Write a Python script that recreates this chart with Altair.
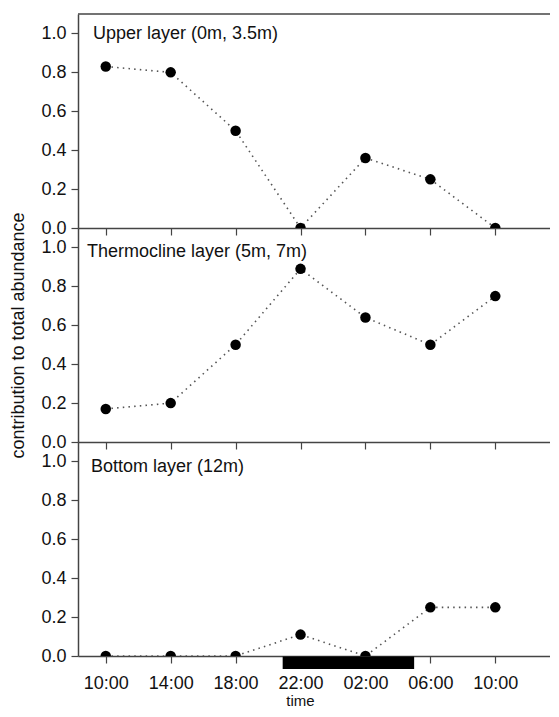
import json
import altair as alt
import pandas as pd

# ---- data ----
times = ["10:00", "14:00", "18:00", "22:00", "02:00", "06:00", "10:00"]
hours = [0, 4, 8, 12, 16, 20, 24]          # hours elapsed since the first 10:00 sample
upper = [0.83, 0.80, 0.50, 0.00, 0.36, 0.25, 0.00]
thermo = [0.17, 0.20, 0.50, 0.89, 0.64, 0.50, 0.75]
bottom = [0.00, 0.00, 0.00, 0.11, 0.00, 0.25, 0.25]
layer_names = ["Upper layer (0m, 3.5m)", "Thermocline layer (5m, 7m)", "Bottom layer (12m)"]
night_start = [10.9]   # ~20:55, hours since first sample
night_end = [19.0]     # ~05:00
y_ticks = [0.0, 0.1, 0.2, 0.3, 0.4, 0.5, 0.6, 0.7, 0.8, 0.9, 1.0]

FONT = "Liberation Sans"
W, H = 472, 214
AX = "#444444"

x_scale = alt.Scale(domain=[-1.71, 27.37], nice=False, zero=False)
y_scale = alt.Scale(domain=[0, 1.1], nice=False, zero=True)
x_label_expr = f"{json.dumps(times)}[indexof({json.dumps(hours)}, datum.value)]"
major_test = "abs(round(datum.value * 10) % 2) == 0"


def panel(values, name, idx, text_x, text_y):
    df = pd.DataFrame({"h": hours, "v": values})
    show_labels = idx == 2
    x_axis_kwargs = dict(values=hours, labels=show_labels, labelExpr=x_label_expr,
                         tickSize=7, labelPadding=11, labelFontSize=18)
    if idx == 2:
        x_axis_kwargs.update(title="time", titleX=222, titleY=49, titleBaseline="alphabetic",
                             titleFontSize=15)
    else:
        x_axis_kwargs.update(title=None)
    x_axis = alt.Axis(**x_axis_kwargs)

    y_axis_kwargs = dict(values=y_ticks,
                         labelExpr=f"{major_test} ? format(datum.value, '.1f') : ''",
                         tickSize={"condition": {"test": major_test, "value": 7}, "value": 4},
                         labelPadding=5, labelFontSize=18)
    if idx == 1:
        y_axis_kwargs.update(title="contribution to total abundance", titleX=-60, titleY=H / 2,
                             titleAngle=270, titleAlign="center", titleBaseline="middle",
                             titleFontSize=18)
    else:
        y_axis_kwargs.update(title=None)
    y_axis = alt.Axis(**y_axis_kwargs)

    base = alt.Chart(df)
    line = base.mark_line(color="#555555", strokeWidth=1.6, strokeDash=[1.5, 4.2], clip=True).encode(
        x=alt.X("h:Q", scale=x_scale, axis=x_axis, title=x_axis_kwargs.get("title")),
        y=alt.Y("v:Q", scale=y_scale, axis=y_axis, title=y_axis_kwargs.get("title")),
    )
    pts = base.mark_circle(size=110, color="black", opacity=1, clip=True).encode(
        x=alt.X("h:Q", scale=x_scale, title=x_axis_kwargs.get("title")),
        y=alt.Y("v:Q", scale=y_scale, title=y_axis_kwargs.get("title")),
    )
    label = alt.Chart(pd.DataFrame({"name": [name]})).mark_text(
        align="left", baseline="middle", font=FONT, fontSize=18, color="#111111"
    ).encode(text="name:N", x=alt.value(text_x), y=alt.value(text_y))
    layers = [line, pts, label]
    if idx == 0:
        top = alt.Chart(pd.DataFrame({"name": [name]})).mark_rule(color=AX, strokeWidth=1.5).encode(
            x=alt.value(0), x2=alt.value(W), y=alt.value(0))
        layers.append(top)
    if idx == 2:
        nd = pd.DataFrame({"s": night_start, "e": night_end})
        bar = alt.Chart(nd).mark_rect(color="black").encode(
            x=alt.X("s:Q", scale=x_scale, title=x_axis_kwargs.get("title")),
            x2="e:Q",
            y=alt.value(H + 0.5), y2=alt.value(H + 13),
        )
        layers.insert(0, bar)
    return alt.layer(*layers).properties(width=W, height=H)


p1 = panel(upper, layer_names[0], 0, 15, 20)
p2 = panel(thermo, layer_names[1], 1, 9, 24)
p3 = panel(bottom, layer_names[2], 2, 13, 25)

# autosize "none": the svg is the view (W wide, 0 high) plus padding,
# so the bottom padding has to hold the three panels and the x axis.
chart = alt.vconcat(p1, p2, p3, spacing=0, bounds="flush").properties(
    autosize=alt.AutoSizeParams(type="none"),
    padding={"left": 70, "top": 6, "right": 0, "bottom": 3 * H + 52},
).configure_view(strokeWidth=0).configure_axis(
    grid=False,
    domainColor=AX, domainWidth=1.5,
    tickColor=AX, tickWidth=1.2,
    labelFont=FONT, labelColor="#111111",
    titleFont=FONT, titleColor="#111111", titleFontWeight="normal",
).configure_text(font=FONT)

chart.save("out.html", embed_options={"renderer": "svg", "actions": False})
